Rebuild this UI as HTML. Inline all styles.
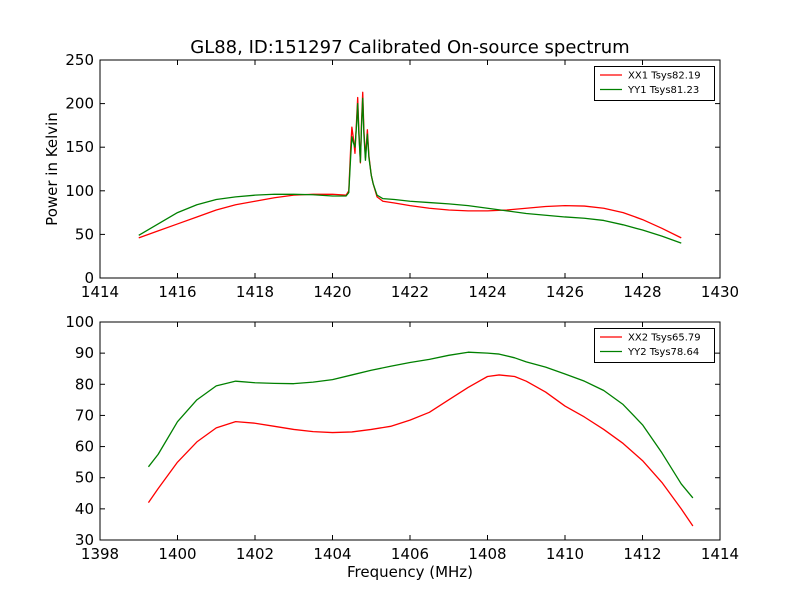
<!DOCTYPE html>
<html><head><meta charset="utf-8"><style>
body{margin:0;background:#fff}
svg text{font-family:"DejaVu Sans","Liberation Sans",sans-serif}
</style></head><body>
<svg id="chart" width="800" height="600" xmlns="http://www.w3.org/2000/svg">
<rect width="800" height="600" fill="#fff"/>
<text x="410" y="53" font-size="18" text-anchor="middle">GL88, ID:151297 Calibrated On-source spectrum</text>
<g id="g1"></g><g id="g2"></g>
</svg>
<script>
const topX1=[1415,1415.5,1416,1416.5,1417,1417.5,1418,1418.5,1419,1419.5,1420,1420.35,1420.42,1420.47,1420.5,1420.54,1420.58,1420.62,1420.65,1420.68,1420.72,1420.75,1420.78,1420.81,1420.85,1420.9,1420.94,1421.0,1421.05,1421.15,1421.3,1421.6,1422,1422.5,1423,1423.5,1424,1424.5,1425,1425.5,1426,1426.5,1427,1427.5,1428,1428.5,1429];
const topXX1=[46,54,62,70,78,84,88,92,95,96,96,95,100,150,173,160,143,180,207,170,132,180,213,170,138,170,140,118,108,93,88,86,83,80,78,77,77,78,80,82,83,82.5,80,75,67,57,46];
const topYY1=[49,62,75,84,90,93,95,96,96,95.5,94,94,98,140,162,155,150,175,200,165,133,175,206,165,135,165,138,118,108,95,91,90,88,86.5,85,83,80,77,74,72,70,68.5,66,61,55,48,40];
const botX=[1399.25,1399.5,1400,1400.5,1401,1401.5,1402,1402.5,1403,1403.5,1404,1404.5,1405,1405.5,1406,1406.5,1407,1407.5,1408,1408.3,1408.7,1409,1409.5,1410,1410.5,1411,1411.5,1412,1412.5,1413,1413.3];
const botXX2=[42,46.5,55,61.5,66,68,67.5,66.5,65.5,64.8,64.5,64.7,65.5,66.5,68.5,71,75,79,82.5,83,82.5,81,77.5,73,69.5,65.5,61,55.5,48.5,40,34.5];
const botYY2=[53.5,57.5,68,75,79.5,81,80.5,80.3,80.2,80.7,81.5,83,84.5,85.8,87,88,89.3,90.3,90,89.7,88.5,87.2,85.5,83.3,81,78,73.5,67,58,48,43.5];
const topXTicks=[1414,1416,1418,1420,1422,1424,1426,1428,1430];
const topYTicks=[0,50,100,150,200,250];
const botXTicks=[1398,1400,1402,1404,1406,1408,1410,1412,1414];
const botYTicks=[30,40,50,60,70,80,90,100];
const NS="http://www.w3.org/2000/svg";
function mk(p,t,a){const e=document.createElementNS(NS,t);for(const k in a)e.setAttribute(k,a[k]);p.appendChild(e);return e;}
function panel(g,top,xmin,xmax,ymin,ymax,xt,yt,series,ylabel,xlabel){
 const L=100,R=720,T=top,B=top+218;
 const sx=v=>L+(v-xmin)/(xmax-xmin)*(R-L), sy=v=>B-(v-ymin)/(ymax-ymin)*(B-T);
 xt.forEach(v=>{const x=sx(v);
  const t=mk(g,'line',{x1:x,x2:x,y1:B,y2:B-5,stroke:'#000'});
  
  
  mk(g,'line',{x1:x,x2:x,y1:T,y2:T+5,stroke:'#000'});
  const l=mk(g,'text',{x:x,y:B+19,'font-size':15,'text-anchor':'middle'});l.textContent=v;
  
  });
 yt.forEach(v=>{const y=sy(v);
  const t=mk(g,'line',{x1:L,x2:L+5,y1:y,y2:y,stroke:'#000'});
  
  
  mk(g,'line',{x1:R,x2:R-5,y1:y,y2:y,stroke:'#000'});
  const l=mk(g,'text',{x:L-6,y:y+5,'font-size':15,'text-anchor':'end'});l.textContent=v;
  
  });
 series.forEach(s=>{
  const p=mk(g,'polyline',{points:s.x.map((v,i)=>sx(v)+','+sy(s.y[i])).join(' '),fill:'none',stroke:s.c,'stroke-width':1.3,'stroke-linejoin':'round'});
  
  });
 const f=mk(g,'rect',{x:L,y:T,width:R-L,height:B-T,fill:'none',stroke:'#000'});
 
 
 const lg=mk(g,'g',{});
 
 
 mk(lg,'rect',{x:594.5,y:T+6.5,width:120,height:34,fill:'#fff',stroke:'#000'});
 series.forEach((s,i)=>{const y=T+15+i*14.5;
  mk(lg,'line',{x1:600,x2:622,y1:y,y2:y,stroke:s.c,'stroke-width':1.2});
  const t=mk(lg,'text',{x:628,y:y+3.5,'font-size':10});t.textContent=s.label;
  
  });
 if(ylabel){const t=mk(g,'text',{x:57,y:(T+B)/2,'font-size':15,'text-anchor':'middle',transform:`rotate(-90 57 ${(T+B)/2})`});t.textContent=ylabel;
  
  }
 if(xlabel){const t=mk(g,'text',{x:410,y:B+37,'font-size':15,'text-anchor':'middle'});t.textContent=xlabel;
  
  }
}
const g1=document.getElementById('g1');


const g2=document.getElementById('g2');


panel(g1,60,1414,1430,0,250,topXTicks,topYTicks,[
 {x:topX1,y:topXX1,c:'#ff0000',n:'series-xx1',label:'XX1 Tsys82.19'},
 {x:topX1,y:topYY1,c:'#008000',n:'series-yy1',label:'YY1 Tsys81.23'}],'Power in Kelvin',null);
panel(g2,322,1398,1414,30,100,botXTicks,botYTicks,[
 {x:botX,y:botXX2,c:'#ff0000',n:'series-xx2',label:'XX2 Tsys65.79'},
 {x:botX,y:botYY2,c:'#008000',n:'series-yy2',label:'YY2 Tsys78.64'}],null,'Frequency (MHz)');
</script>
</body></html>
